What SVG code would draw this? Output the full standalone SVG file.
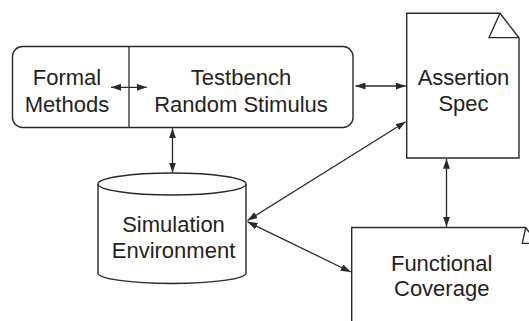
<svg xmlns="http://www.w3.org/2000/svg" width="529" height="321" viewBox="0 0 529 321">
  <style>
    .shape { fill: #ffffff; stroke: #2a2a2a; stroke-width: 1.4; stroke-linejoin: miter; }
    .line { fill: none; stroke: #2a2a2a; stroke-width: 1.3; }
    .conn { fill: none; stroke: #2a2a2a; stroke-width: 1.3; marker-start: url(#head); marker-end: url(#head); }
    .label { font-family: "Liberation Sans", Arial, sans-serif; font-size: 22px; fill: #231f20; text-anchor: middle; }
  </style>
  <defs>
    <marker id="head" viewBox="0 0 10 7" refX="10" refY="3.5" markerWidth="10" markerHeight="7" markerUnits="userSpaceOnUse" orient="auto-start-reverse">
      <path d="M0,0 L10,3.5 L0,7 Z" fill="#2a2a2a"/>
    </marker>
  </defs>
  <rect width="529" height="321" fill="#ffffff"/>

  <!-- Testbench block with formal methods compartment -->
  <g id="testbench">
    <rect class="shape" x="12.5" y="46.5" width="340.5" height="81" rx="10" ry="10"/>
    <line class="line" x1="129" y1="46.5" x2="129" y2="127.5"/>
    <text class="label" x="67" y="85">Formal</text>
    <text class="label" x="67" y="112">Methods</text>
    <text class="label" x="241" y="85">Testbench</text>
    <text class="label" x="241" y="112">Random Stimulus</text>
  </g>

  <!-- Assertion specification document -->
  <g id="assertion-spec">
    <path class="shape" d="M406.7,13.3 L500,13.3 L519,37.7 L519,158 L406.7,158 Z"/>
    <path class="line" d="M500,13.3 L489,37.7 L519,37.7"/>
    <text class="label" x="463.5" y="85">Assertion</text>
    <text class="label" x="463.5" y="111">Spec</text>
  </g>

  <!-- Simulation environment database -->
  <g id="simulation-environment">
    <path class="shape" d="M98,184 L98,273 A74,10.5 0 0 0 246,273 L246,184"/>
    <ellipse class="shape" cx="172" cy="184" rx="74" ry="11"/>
    <text class="label" x="173.5" y="231.5">Simulation</text>
    <text class="label" x="173.5" y="257.5">Environment</text>
  </g>

  <!-- Functional coverage document -->
  <g id="functional-coverage">
    <path class="shape" d="M351.7,335 L351.7,227.5 L525.7,227.5 L535,240 L535,335 Z"/>
    <path class="line" d="M525.7,227.5 L522.3,243.3 L535,243.3"/>
    <text class="label" x="441.7" y="270.5">Functional</text>
    <text class="label" x="441.7" y="296">Coverage</text>
  </g>

  <!-- Connectors -->
  <g id="connectors">
    <line class="conn" x1="111" y1="87.3" x2="146.7" y2="87.3"/>
    <line class="conn" x1="355.5" y1="86" x2="405.7" y2="86"/>
    <line class="conn" x1="172.5" y1="128.3" x2="172.5" y2="172.5"/>
    <line class="conn" x1="405.7" y1="121.7" x2="247.5" y2="220.5"/>
    <line class="conn" x1="247.5" y1="221.8" x2="350.8" y2="272"/>
    <line class="conn" x1="446.5" y1="158.8" x2="446.5" y2="226.8"/>
  </g>
</svg>
